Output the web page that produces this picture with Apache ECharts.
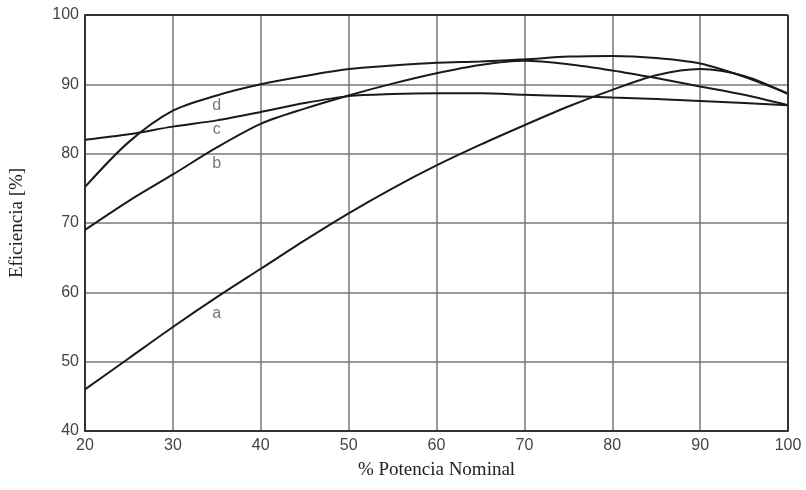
<!DOCTYPE html>
<html>
<head>
<meta charset="utf-8">
<script src="https://cdn.jsdelivr.net/npm/echarts@6/dist/echarts.min.js"></script>
<style>
    html, body { margin: 0; padding: 0; background: #fff; }
    #chartBox { width: 806px; height: 490px; }
</style>
</head>
<body>
<div id="chartBox"></div>
<script>
// % potencia nominal
var potencia = [20, 25, 30, 35, 40, 45, 50, 55, 60, 65, 70, 75, 80, 85, 90, 95, 100];
// eficiencia [%] de cada curva
var curvaA = [46, 50.5, 55, 59.3, 63.4, 67.5, 71.4, 75, 78.3, 81.3, 84.1, 86.8, 89.2, 91.3, 92.2, 91.2, 88.6];
var curvaB = [69, 73.2, 77, 80.9, 84.3, 86.5, 88.4, 90.1, 91.6, 92.8, 93.4, 92.9, 92, 90.9, 89.7, 88.5, 87];
var curvaC = [82, 82.8, 83.9, 84.8, 86, 87.3, 88.3, 88.6, 88.7, 88.7, 88.5, 88.3, 88.1, 87.9, 87.6, 87.3, 87];
var curvaD = [75.2, 81.7, 86.2, 88.4, 90, 91.2, 92.2, 92.7, 93.1, 93.3, 93.6, 94, 94.1, 93.8, 93, 91.1, 88.7];
// etiquetas de las curvas
var etiquetas = ['a', 'b', 'c', 'd'];
var etiquetaX = [35, 35, 35, 35];
var etiquetaY = [57, 78.6, 83.4, 86.9];

function pares(ys) {
    return potencia.map(function (x, i) { return [x, ys[i]]; });
}

var chartDom = document.getElementById('chartBox');
var myChart = echarts.init(chartDom);

var lineStyle = { color: '#1a1a1a', width: 2 };
function curva(name, ys) {
    return {
        name: name,
        type: 'line',
        smooth: 0.3,
        showSymbol: false,
        lineStyle: lineStyle,
        data: pares(ys),
        z: 3
    };
}

var option = {
    animation: false,
    backgroundColor: '#fff',
    grid: { left: 85, right: 18, top: 15, bottom: 59 },
    xAxis: {
        type: 'value',
        min: 20,
        max: 100,
        interval: 10,
        name: '% Potencia Nominal',
        nameLocation: 'middle',
        nameGap: 30,
        nameTextStyle: { fontFamily: 'Liberation Serif', fontSize: 19, color: '#222' },
        axisLine: { show: true, onZero: false, lineStyle: { color: '#333', width: 2 } },
        axisTick: { show: false },
        axisLabel: { fontFamily: 'Liberation Sans', fontSize: 16, color: '#444', margin: 7 },
        splitLine: { show: true, lineStyle: { color: '#777', width: 1.5 } }
    },
    yAxis: {
        type: 'value',
        min: 40,
        max: 100,
        interval: 10,
        name: 'Eficiencia [%]',
        nameLocation: 'middle',
        nameGap: 58,
        nameTextStyle: { fontFamily: 'Liberation Serif', fontSize: 19, color: '#222' },
        axisLine: { show: true, lineStyle: { color: '#333', width: 2 } },
        axisTick: { show: false },
        axisLabel: { fontFamily: 'Liberation Sans', fontSize: 16, color: '#444', margin: 6 },
        splitLine: { show: true, lineStyle: { color: '#777', width: 1.5 } }
    },
    series: [
        curva('a', curvaA),
        curva('b', curvaB),
        curva('c', curvaC),
        curva('d', curvaD),
        {
            type: 'scatter',
            symbolSize: 0,
            data: etiquetas.map(function (t, i) { return { value: [etiquetaX[i], etiquetaY[i]], name: t }; }),
            label: {
                show: true,
                position: 'inside',
                formatter: '{b}',
                fontFamily: 'Liberation Sans',
                fontSize: 16,
                color: '#555'
            },
            z: 4
        },
        {
            // borde superior y derecho del área
            type: 'line',
            silent: true,
            data: [],
            markLine: {
                silent: true,
                symbol: 'none',
                label: { show: false },
                lineStyle: { color: '#333', width: 2, type: 'solid' },
                data: [{ yAxis: 100 }, { xAxis: 100 }]
            }
        }
    ]
};
myChart.setOption(option);
</script>
</body>
</html>
